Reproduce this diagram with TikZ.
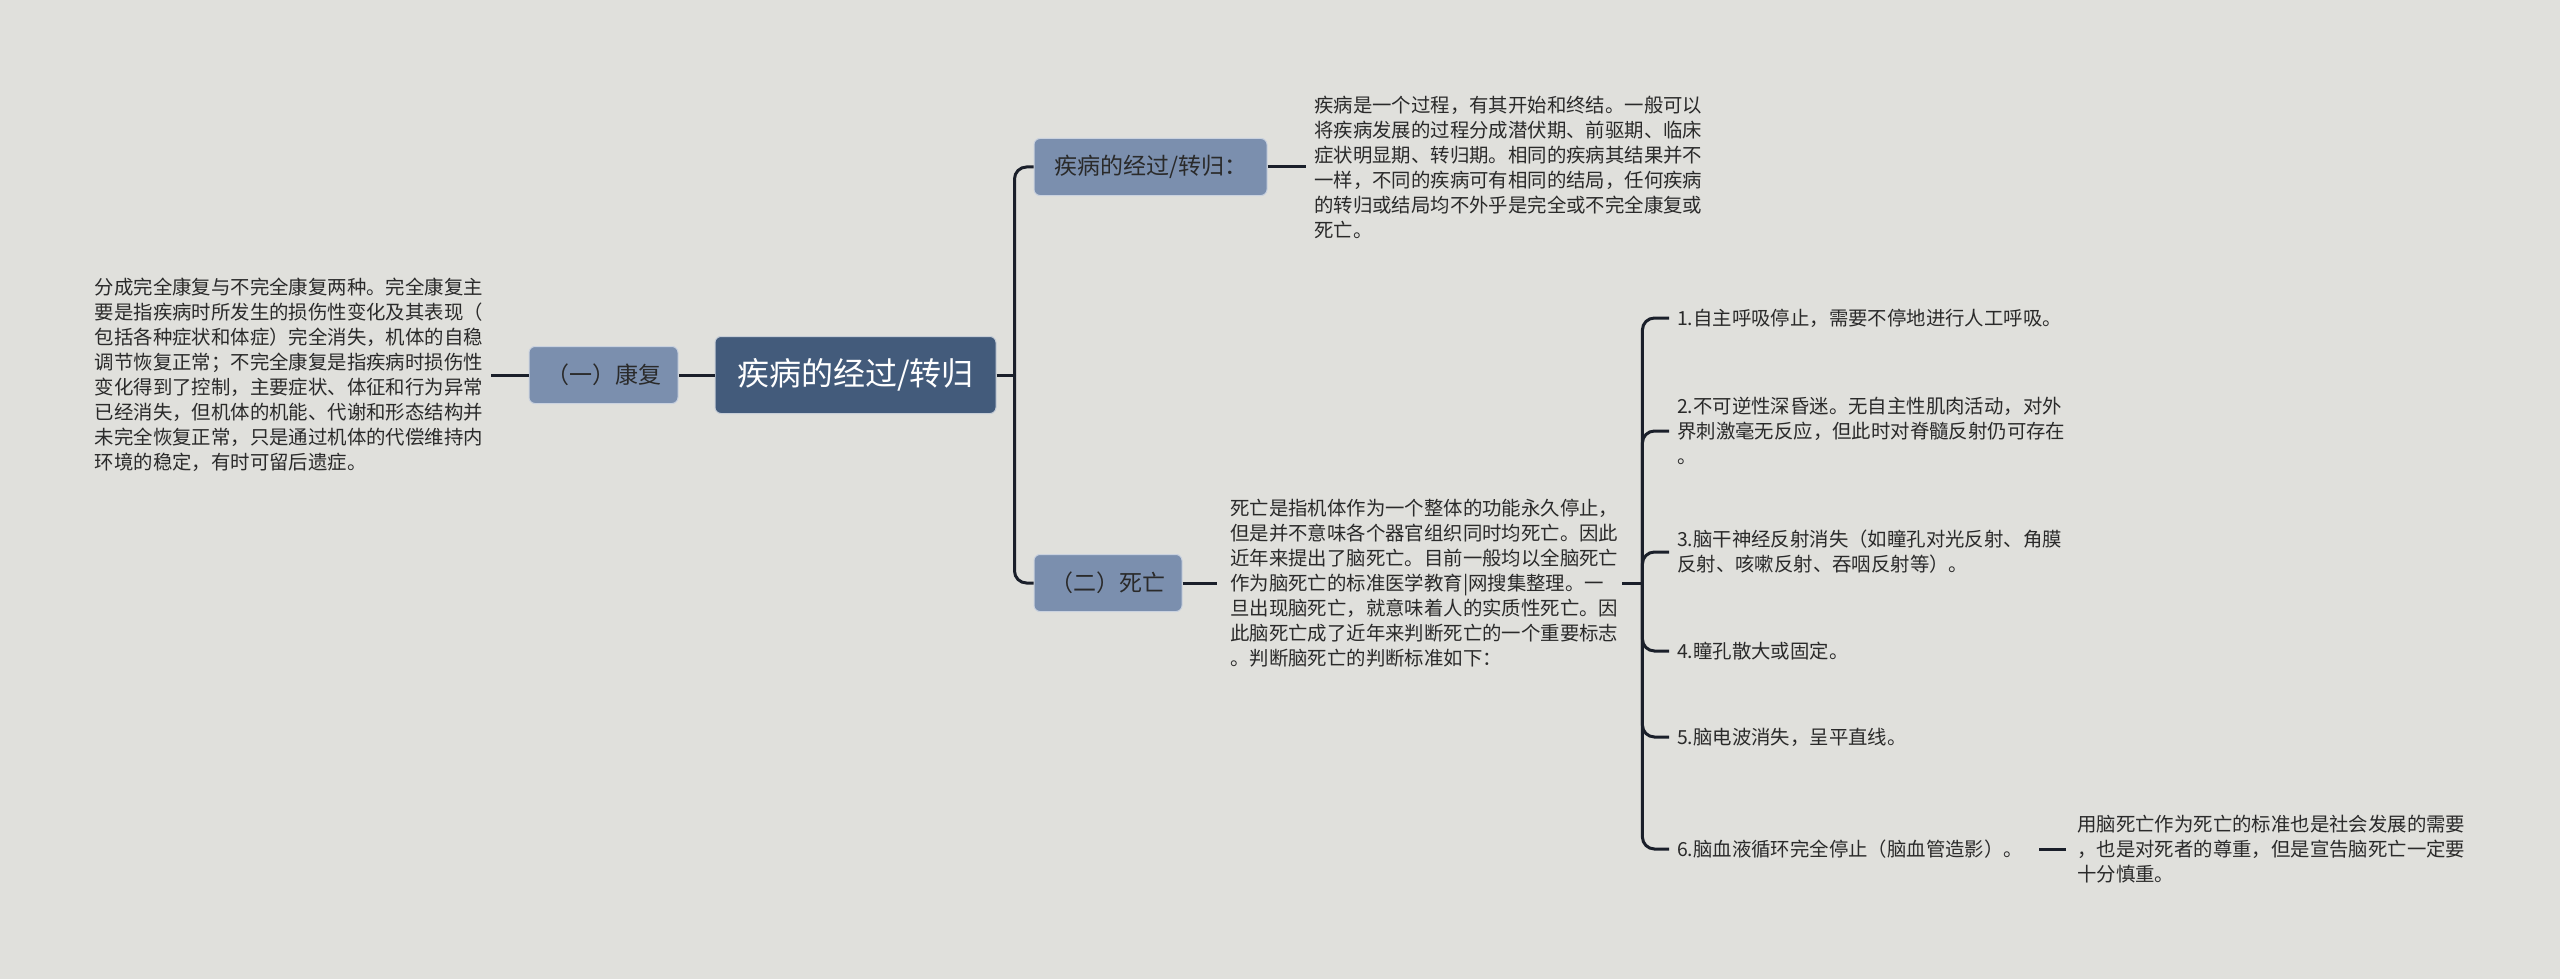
\documentclass[tikz,border=0pt]{standalone}
\usepackage{fontspec}
\setmainfont{Noto Sans CJK SC}
\usetikzlibrary{positioning}
\definecolor{bg}{HTML}{E0E0DC}
\definecolor{light}{HTML}{7B8FAE}
\definecolor{dark}{HTML}{435B7B}
\definecolor{ln}{HTML}{1A1F2A}
\definecolor{txt}{HTML}{2A2A2A}
\tikzset{
 rootbox/.style={fill=dark,draw=white!70!dark,line width=1pt,rounded corners=6,text=white,font=\fontsize{32}{36}\selectfont,minimum width=281,minimum height=77,inner sep=0},
 subbox/.style={fill=light,draw=white!60!light,line width=1pt,rounded corners=6,text=txt,font=\fontsize{23}{27}\selectfont,minimum height=57,inner sep=0},
 body/.style={text=txt,font=\fontsize{19.4}{25}\selectfont,align=left,inner sep=0},
 conn/.style={draw=ln,line width=3pt},
 bconn/.style={draw=ln,line width=3pt,rounded corners=12},
}
\begin{document}
\begin{tikzpicture}[x=1pt,y=-1pt]
\fill[bg] (0,0) rectangle (2560,979);
\useasboundingbox (0,0) rectangle (2560,979);
\node[rootbox] (root) at (855.5,375) {疾病的经过/转归};
\node[subbox,minimum width=149] (kf) at (603.5,375) {（一）康复};
\node[subbox,minimum width=233] (gc) at (1150.5,167) {疾病的经过/转归：};
\node[subbox,minimum width=148] (sw) at (1108,583) {（二）死亡};
\node[body,anchor=east] (kft) at (483,375) {分成完全康复与不完全康复两种。完全康复主\\要是指疾病时所发生的损伤性变化及其表现（\\包括各种症状和体症）完全消失，机体的自稳\\调节恢复正常；不完全康复是指疾病时损伤性\\变化得到了控制，主要症状、体征和行为异常\\已经消失，但机体的机能、代谢和形态结构并\\未完全恢复正常，只是通过机体的代偿维持内\\环境的稳定，有时可留后遗症。};
\node[body,anchor=west] (gct) at (1314,167) {疾病是一个过程，有其开始和终结。一般可以\\将疾病发展的过程分成潜伏期、前驱期、临床\\症状明显期、转归期。相同的疾病其结果并不\\一样，不同的疾病可有相同的结局，任何疾病\\的转归或结局均不外乎是完全或不完全康复或\\死亡。};
\node[body,anchor=west] (swt) at (1230,583) {死亡是指机体作为一个整体的功能永久停止，\\但是并不意味各个器官组织同时均死亡。因此\\近年来提出了脑死亡。目前一般均以全脑死亡\\作为脑死亡的标准医学教育|网搜集整理。一\\旦出现脑死亡，就意味着人的实质性死亡。因\\此脑死亡成了近年来判断死亡的一个重要标志\\。判断脑死亡的判断标准如下：};
\node[body,anchor=west] (i1) at (1677,318) {1.自主呼吸停止，需要不停地进行人工呼吸。};
\node[body,anchor=west] (i2) at (1677,431) {2.不可逆性深昏迷。无自主性肌肉活动，对外\\界刺激毫无反应，但此时对脊髓反射仍可存在\\。};
\node[body,anchor=west] (i3) at (1677,552) {3.脑干神经反射消失（如瞳孔对光反射、角膜\\反射、咳嗽反射、吞咽反射等）。};
\node[body,anchor=west] (i4) at (1677,651) {4.瞳孔散大或固定。};
\node[body,anchor=west] (i5) at (1677,737) {5.脑电波消失，呈平直线。};
\node[body,anchor=west] (i6) at (1677,849) {6.脑血液循环完全停止（脑血管造影）。};
\node[body,anchor=west] (i6t) at (2077,849) {用脑死亡作为死亡的标准也是社会发展的需要\\，也是对死者的尊重，但是宣告脑死亡一定要\\十分慎重。};
% connectors
\draw[conn] (root.west) -- (kf.east);
\draw[conn] (kf.west) -- ([xshift=8]kft.east);
\draw[conn] (root.east) -- ++(18,0) coordinate (tr);
\draw[bconn] (tr) |- (gc.west);
\draw[bconn] (tr) |- (sw.west);
\draw[conn] (gc.east) -- ([xshift=-8]gct.west);
\draw[conn] (sw.east) -- ([xshift=-13]swt.west);
\draw[conn] ([xshift=4]swt.east) -- ++(20,0) coordinate (br);
\foreach \i in {i1,i2,i3,i4,i5,i6}{\draw[bconn] (br) |- ([xshift=-8]\i.west);}
\draw[conn] ([xshift=16]i6.east) -- ([xshift=-11]i6t.west);
\end{tikzpicture}
\end{document}
